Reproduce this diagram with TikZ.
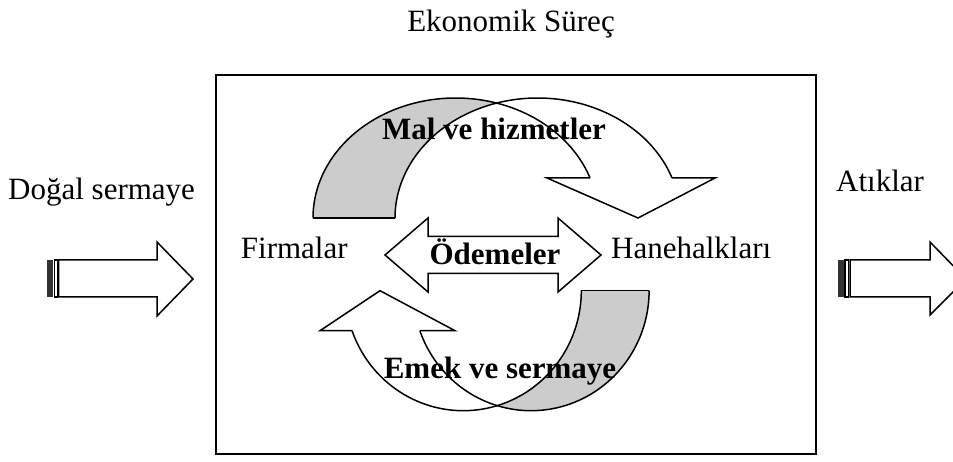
\documentclass[tikz,border=0pt]{standalone}
\usepackage{fontspec}
\setmainfont{Liberation Serif}
\definecolor{bandgrey}{RGB}{204,204,204}
\tikzset{
  outline/.style={line width=1.5pt, line join=miter},
  frame/.style={line width=2pt},
  lbl/.style={font=\fontsize{31}{36}\selectfont, inner sep=0pt, anchor=base},
  blbl/.style={font=\fontsize{31}{36}\selectfont\bfseries, inner sep=0pt, anchor=base},
}
\begin{document}
\begin{tikzpicture}[x=1pt,y=-1pt]
\useasboundingbox (0,0) rectangle (953,462);
\clip (0,0) rectangle (953,462);

% economic process frame
\draw[frame, fill=white] (216,75) rectangle (816,454);

% upper curved arrow: shaded back band
\fill[bandgrey] plot[domain=73.29:180, samples=60] ({455.6+142.6*cos(\x)},{218-120*sin(\x)})
  -- plot[domain=180:106.71, samples=60] ({537.6+142.6*cos(\x)},{218-120*sin(\x)}) -- cycle;
\draw[outline] plot[domain=180:19.47, samples=120] ({455.6+142.6*cos(\x)},{218-120*sin(\x)});
\draw[outline] plot[domain=180:19.47, samples=120] ({537.6+142.6*cos(\x)},{218-120*sin(\x)});
\draw[outline] (313,218) -- (395,218);
\draw[outline] (590,178) -- (547,178) -- (638,218) -- (715,178) -- (672,178);

% lower curved arrow: shaded back band
\fill[bandgrey] plot[domain=0:106.7, samples=60] ({531.1+118*cos(\x)},{290.7+120*sin(\x)})
  -- plot[domain=73.3:0, samples=60] ({463.3+118*cos(\x)},{290.7+120*sin(\x)}) -- cycle;
\draw[outline] plot[domain=0:160.53, samples=120] ({531.1+118*cos(\x)},{290.7+120*sin(\x)});
\draw[outline] plot[domain=0:160.53, samples=120] ({463.3+118*cos(\x)},{290.7+120*sin(\x)});
\draw[outline] (581.3,290.7) -- (649,290.7);
\draw[outline] (420,330.7) -- (455,330.7) -- (380,290.7) -- (320,330.7) -- (352,330.7);

% payments double arrow
\draw[outline, fill=white] (385,255) -- (428,218) -- (428,236.5) -- (558,236.5) -- (558,218)
  -- (601,255) -- (558,292) -- (558,273.5) -- (428,273.5) -- (428,292) -- cycle;

% natural capital inflow (striped arrow)
\fill[black!80] (47.3,260) rectangle (52.7,297);
\draw[line width=1.1pt] (54.2,260) rectangle (57.4,297);
\draw[outline, fill=white] (58.7,260) -- (157,260) -- (157,242) -- (193,279) -- (157,316)
  -- (157,297) -- (58.7,297) -- cycle;

% waste outflow (striped arrow)
\fill[black!80] (838.3,260) rectangle (843.5,297);
\draw[line width=1.1pt] (845,260) rectangle (848.6,297);
\draw[outline, fill=white] (850,260) -- (930,260) -- (930,242) -- (966,279) -- (930,315)
  -- (930,297) -- (850,297) -- cycle;

% labels
\node[lbl] (title) at (511,32) {Ekonomik Süreç};
\node[lbl, anchor=base west] (natural) at (8,200) {Doğal sermaye};
\node[lbl, anchor=base west] (waste) at (836,192) {Atıklar};
\node[lbl, anchor=base west] (firms) at (240.7,258.3) {Firmalar};
\node[lbl, anchor=base west] (households) at (611,258.3) {Hanehalkları};
\node[blbl] (goods) at (494,140) {Mal ve hizmetler};
\node[blbl] (payments) at (495,265) {Ödemeler};
\node[blbl] (labour) at (500,378) {Emek ve sermaye};
\end{tikzpicture}
\end{document}
